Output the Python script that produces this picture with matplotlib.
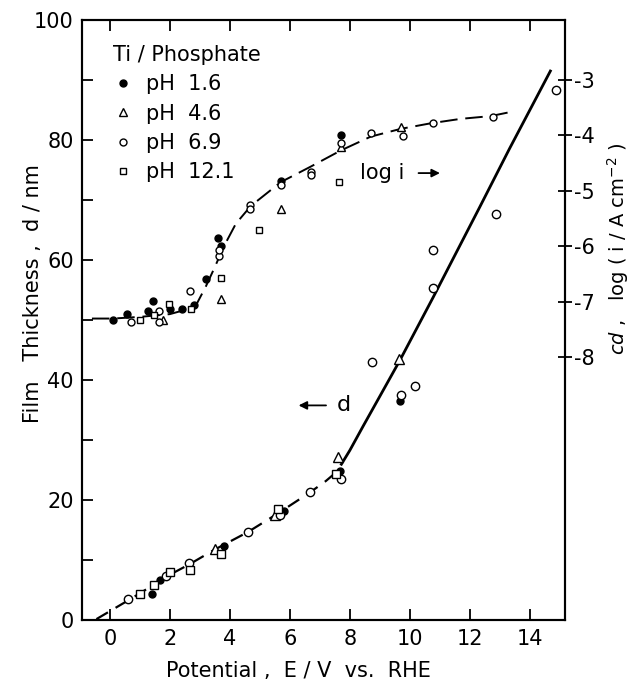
import numpy as np
import matplotlib
matplotlib.use('Agg')
import matplotlib.pyplot as plt
from matplotlib.lines import Line2D

plt.rcParams['font.family'] = ['DejaVu Sans']

# ---- film thickness d / nm vs potential (lower curve, left axis) ----
d_E_16 = [1.41, 1.67, 3.81, 5.80, 7.67, 9.67]
d_16 = [4.4, 6.7, 12.3, 18.2, 24.8, 36.6]
d_E_46 = [3.50, 5.50, 7.61, 9.64]
d_46 = [11.8, 17.5, 27.2, 43.6]
d_E_69 = [0.61, 1.87, 2.64, 4.61, 5.67, 6.67, 7.70, 8.74, 9.72, 10.17, 10.76, 10.76, 12.86, 14.87]
d_69 = [3.6, 7.3, 9.6, 14.7, 17.5, 21.3, 23.6, 43.1, 37.6, 39.0, 55.3, 61.7, 67.7, 88.3]
d_E_121 = [1.00, 1.47, 2.00, 2.67, 3.69, 5.61, 7.53]
d_121 = [4.3, 5.9, 8.1, 8.4, 11.1, 18.5, 24.4]

# guide lines for d
d_fit_E_dash = [-0.45, 0.5, 1.0, 2.0, 2.64, 3.5, 4.6, 5.6, 6.67, 7.2, 7.72]
d_fit_dash = [0.2, 3.0, 4.5, 7.6, 9.3, 11.8, 14.7, 17.8, 21.3, 23.2, 25.4]
d_fit_E_solid = [7.72, 8.0, 8.44, 9.0, 9.67, 10.78, 12.33, 13.33, 14.69]
d_fit_solid = [26.0, 28.3, 32.3, 37.3, 43.3, 53.8, 68.8, 78.6, 91.5]

# ---- log(i / A cm^-2) vs potential (upper curve, right axis) ----
i_E_16 = [0.11, 0.56, 1.28, 1.42, 2.00, 2.41, 2.80, 3.22, 3.61, 3.69, 5.69, 7.72]
logi_16 = [-7.32, -7.22, -7.16, -6.99, -7.13, -7.12, -7.06, -6.59, -5.84, -6.00, -4.82, -4.00]
i_E_46 = [1.78, 3.69, 5.69, 7.72, 9.72]
logi_46 = [-7.32, -6.95, -5.32, -4.20, -3.85]
i_E_69 = [0.70, 1.64, 1.64, 2.67, 3.64, 3.64, 4.67, 4.67, 5.69, 6.70, 6.70, 7.72, 8.72, 9.76, 10.78, 12.78]
logi_69 = [-7.37, -7.16, -7.36, -6.80, -6.18, -6.06, -5.25, -5.33, -4.89, -4.65, -4.71, -4.13, -3.96, -4.01, -3.78, -3.66]
i_E_121 = [1.00, 1.48, 1.98, 2.69, 3.69, 4.98, 7.64]
logi_121 = [-7.33, -7.24, -7.03, -7.13, -6.57, -5.71, -4.83]

i_fit_E = [-0.6, 0.1, 1.0, 2.0, 2.6, 2.9, 3.2, 3.5, 3.8, 4.2, 4.7, 5.7, 6.7, 7.7, 8.7, 9.7, 10.7, 11.7, 12.7, 13.33]
i_fit = [-7.30, -7.30, -7.27, -7.22, -7.13, -7.03, -6.72, -6.37, -6.00, -5.59, -5.27, -4.84, -4.56, -4.27, -4.02, -3.88, -3.78, -3.70, -3.65, -3.58]

x_ticks = [0, 2, 4, 6, 8, 10, 12, 14]
y_ticks = [0, 20, 40, 60, 80, 100]
r_ticks = [-3, -4, -5, -6, -7, -8]

fig = plt.figure(figsize=(6.36, 6.9), dpi=100)
ax = fig.add_axes([0.129, 0.101, 0.759, 0.870])
ax2 = ax.twinx()

mk = dict(color='black', linestyle='none')
ax.plot(d_fit_E_dash, d_fit_dash, color='black', lw=1.6, dashes=(6, 4))
ax.plot(d_fit_E_solid, d_fit_solid, color='black', lw=2.0)
ax.plot(d_E_16, d_16, marker='o', ms=5, **mk)
ax.plot(d_E_46, d_46, marker='^', ms=7, mfc='white', mew=1.0, **mk)
ax.plot(d_E_69, d_69, marker='o', ms=6, mfc='white', mew=1.0, **mk)
ax.plot(d_E_121, d_121, marker='s', ms=6, mfc='white', mew=1.0, **mk)

ax2.plot(i_fit_E, i_fit, color='black', lw=1.4, dashes=(9, 4))
ax2.plot(i_E_16, logi_16, marker='o', ms=5, **mk)
ax2.plot(i_E_46, logi_46, marker='^', ms=6, mfc='white', mew=1.0, **mk)
ax2.plot(i_E_69, logi_69, marker='o', ms=5, mfc='white', mew=1.0, **mk)
ax2.plot(i_E_121, logi_121, marker='s', ms=5, mfc='white', mew=1.0, **mk)

ax.set_xlim(-0.93, 15.17)
ax.set_ylim(0, 100)
ax2.set_ylim(-12.74, -1.918)

ax.set_xticks(x_ticks)
ax.set_yticks(y_ticks)
ax.set_yticks(range(10, 100, 20), minor=True)
ax2.set_yticks(r_ticks)
ax2.set_yticklabels([f'-{abs(t)}' for t in r_ticks])

ax.tick_params(axis='both', which='major', direction='in', length=8, width=1.3,
               labelsize=15, top=True, pad=6)
ax.tick_params(axis='y', which='minor', direction='in', length=8, width=1.3)
ax2.tick_params(axis='y', direction='inout', length=10, width=1.3, labelsize=15, pad=2)
for a in (ax, ax2):
    for s in a.spines.values():
        s.set_linewidth(1.5)

# legend
handles = [
    Line2D([], [], marker='o', ms=5, **mk),
    Line2D([], [], marker='^', ms=6, mfc='white', **mk),
    Line2D([], [], marker='o', ms=5, mfc='white', **mk),
    Line2D([], [], marker='s', ms=5, mfc='white', **mk),
]
leg = ax.legend(handles, ['pH  1.6', 'pH  4.6', 'pH  6.9', 'pH  12.1'],
                title='Ti / Phosphate', loc='upper left', bbox_to_anchor=(0.025, 0.99),
                frameon=False, fontsize=15, title_fontsize=15, handlelength=1.0,
                handletextpad=0.6, labelspacing=0.45, alignment='left')

# annotations
ax.text(8.33, 74.5, 'log i', fontsize=15, va='center', ha='left')
ax.annotate('', xy=(11.1, 74.5), xytext=(10.2, 74.5),
            arrowprops=dict(arrowstyle='-|>', color='black', lw=1.3, mutation_scale=12))
ax.text(7.55, 35.8, 'd', fontsize=16, va='center', ha='left')
ax.annotate('', xy=(6.2, 35.8), xytext=(7.3, 35.8),
            arrowprops=dict(arrowstyle='-|>', color='black', lw=1.3, mutation_scale=12))

fig.text(0.47, 0.028, 'Potential ,  E / V  vs.  RHE', fontsize=15, ha='center', va='center')
fig.text(0.052, 0.575, 'Film   Thickness ,  d / nm', fontsize=15, rotation=90,
         ha='center', va='center')
fig.text(0.972, 0.64, r'$cd$ ,   log ( i / A cm$^{-2}$ )', fontsize=14, rotation=90,
         ha='center', va='center')

fig.savefig('out.png', dpi=100)
